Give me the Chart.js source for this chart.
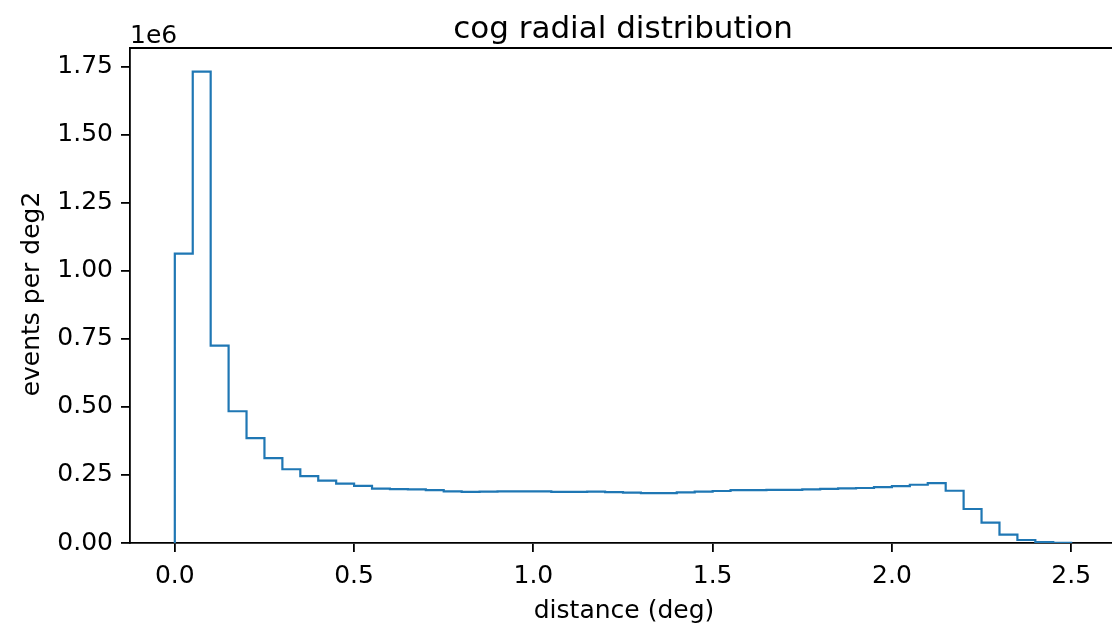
<!DOCTYPE html>
<html>
<head>
<meta charset="utf-8">
<script src="https://cdn.jsdelivr.net/npm/chart.js@4"></script>
<style>
	html, body { margin: 0; padding: 0; background: #fff; overflow: hidden; }
	#wrap { width: 1120px; height: 626px; }
</style>
</head>
<body>
<div id="wrap"><canvas id="histChart"></canvas></div>
<script>
// histogram bins: 50 bins of 0.05 deg from 0 to 2.5
const binStart = 0;
const binWidth = 0.05;
const counts = [
	1.063, 1.732, 0.725, 0.484, 0.385, 0.312, 0.271, 0.246, 0.229, 0.218,
	0.210, 0.200, 0.198, 0.197, 0.194, 0.190, 0.188, 0.189, 0.190, 0.190,
	0.190, 0.188, 0.188, 0.189, 0.187, 0.185, 0.183, 0.183, 0.186, 0.189,
	0.191, 0.194, 0.194, 0.195, 0.195, 0.197, 0.199, 0.201, 0.202, 0.205,
	0.209, 0.214, 0.220, 0.192, 0.125, 0.075, 0.031, 0.011, 0.003, 0.001
]; // in units of 1e6
const xTicks = [0, 0.5, 1.0, 1.5, 2.0, 2.5];
const yTicks = [0, 0.25, 0.5, 0.75, 1.0, 1.25, 1.5, 1.75]; // x 1e6

const font = "'DejaVu Sans', sans-serif";
const edges = counts.map((c, i) => binStart + i * binWidth);
const lastEdge = binStart + counts.length * binWidth;

// outline of a step histogram: up at the first edge, flat per bin, down at the last edge
const points = [{ x: edges[0], y: 0 }];
counts.forEach((c, i) => points.push({ x: edges[i], y: c * 1e6 }));
points.push({ x: lastEdge, y: counts[counts.length - 1] * 1e6 });
points.push({ x: lastEdge, y: 0 });

const xMargin = (lastEdge - binStart) * 0.05;
const yMax = Math.max(...counts) * 1e6 * 1.05;

const textPlugin = {
	id: "texts",
	afterDraw(chart) {
		const ctx = chart.ctx;
		const a = chart.chartArea;
		ctx.save();
		// top and right spines
		ctx.strokeStyle = "#000";
		ctx.lineWidth = 1.8;
		ctx.beginPath();
		ctx.moveTo(a.left, a.top);
		ctx.lineTo(a.right, a.top);
		ctx.lineTo(a.right, a.bottom);
		ctx.stroke();

		ctx.fillStyle = "#000";
		ctx.textBaseline = "alphabetic";
		ctx.textAlign = "center";
		ctx.font = "31px " + font;
		ctx.fillText("cog radial distribution", 623, 38);

		ctx.font = "25px " + font;
		ctx.fillText("distance (deg)", 624, 618);

		ctx.textAlign = "left";
		ctx.fillText("1e6", a.left, 43);

		ctx.translate(39, 294);
		ctx.rotate(-Math.PI / 2);
		ctx.textAlign = "center";
		ctx.fillText("events per deg2", 0, 0);
		ctx.restore();
	},
};

new Chart(document.getElementById("histChart"), {
	type: "line",
	data: {
		datasets: [
			{
				data: points,
				stepped: "before",
				borderColor: "#1f77b4",
				borderWidth: 2.2,
				pointRadius: 0,
				fill: false,
			},
		],
	},
	options: {
		responsive: true,
		maintainAspectRatio: false,
		animation: false,
		layout: { padding: { left: 0, top: 48, right: 4, bottom: 0 } },
		plugins: {
			legend: { display: false },
			tooltip: { enabled: false },
		},
		scales: {
			x: {
				type: "linear",
				min: binStart - xMargin,
				max: lastEdge + xMargin,
				afterBuildTicks: (s) => { s.ticks = xTicks.map((v) => ({ value: v })); },
				afterFit: (s) => { s.height = 83; },
				ticks: {
					color: "#000",
					font: { family: font, size: 25 },
					padding: 9,
					maxRotation: 0,
					callback: (v) => v.toFixed(1),
				},
				grid: { drawOnChartArea: false, drawTicks: true, tickLength: 9, color: "#000", lineWidth: 1.8 },
				border: { display: true, color: "#000", width: 1.8 },
			},
			y: {
				min: 0,
				max: yMax,
				afterBuildTicks: (s) => { s.ticks = yTicks.map((v) => ({ value: v * 1e6 })); },
				afterFit: (s) => { s.width = 130; },
				ticks: {
					color: "#000",
					font: { family: font, size: 25 },
					padding: 8,
					callback: (v) => (v / 1e6).toFixed(2),
				},
				grid: { drawOnChartArea: false, drawTicks: true, tickLength: 9, color: "#000", lineWidth: 1.8 },
				border: { display: true, color: "#000", width: 1.8 },
			},
		},
	},
	plugins: [textPlugin],
});
</script>
</body>
</html>
